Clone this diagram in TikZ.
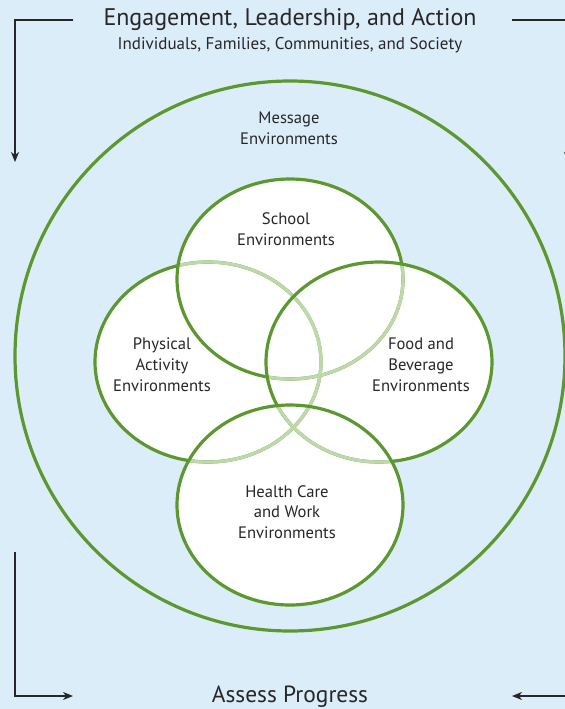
\documentclass[tikz,border=0pt]{standalone}
\usepackage{fontspec}
\setmainfont{PT Sans}
\usepackage{tikz}
\usetikzlibrary{arrows.meta}

\definecolor{skyback}{RGB}{219,237,248}
\definecolor{leafgreen}{RGB}{92,151,47}
\definecolor{paleleaf}{RGB}{190,216,170}
\definecolor{inkgray}{RGB}{40,38,40}

\begin{document}
\begin{tikzpicture}[x=0.5pt, y=-0.5pt, >={Stealth[length=5pt, width=4pt, inset=1.5pt]},
    ring/.style = {leafgreen, line width=1.6pt},
    faint/.style = {paleleaf, line width=1.6pt},
    envlabel/.style = {align=center, text=inkgray, font=\fontsize{8.3}{10.4}\selectfont},
    loopline/.style = {inkgray, line width=0.65pt}]

    \useasboundingbox (0,0) rectangle (565,709);
    \fill [skyback] (0,0) rectangle (565,709);
    \clip (0,0) rectangle (565,709);

    % outer ring
    \draw [ring] (290,356) circle [radius=275];

    % the four environments
    \foreach \c in {(208,362), (290,279), (379,362), (290,505)}
        \fill [white] \c ellipse [x radius=113, y radius=100];

    \draw [ring] (208,362) ellipse [x radius=113, y radius=100];

    \begin{scope}
        \clip (290,279) ellipse [x radius=113, y radius=100];
        \draw [faint] (208,362) ellipse [x radius=113, y radius=100];
    \end{scope}
    \draw [ring] (290,279) ellipse [x radius=113, y radius=100];

    \begin{scope}
        \clip (379,362) ellipse [x radius=113, y radius=100];
        \draw [faint] (208,362) ellipse [x radius=113, y radius=100];
        \draw [faint] (290,279) ellipse [x radius=113, y radius=100];
    \end{scope}
    \draw [ring] (379,362) ellipse [x radius=113, y radius=100];

    \begin{scope}
        \clip (290,505) ellipse [x radius=113, y radius=100];
        \draw [faint] (208,362) ellipse [x radius=113, y radius=100];
        \draw [faint] (379,362) ellipse [x radius=113, y radius=100];
    \end{scope}
    \draw [ring] (290,505) ellipse [x radius=113, y radius=100];

    % texts
    \node [text=inkgray, font=\fontsize{12}{14}\selectfont] (title) at (290,20)
        {Engagement, Leadership, and Action};
    \node [text=inkgray, font=\fontsize{8.5}{10}\selectfont] (subtitle) at (290,45)
        {Individuals, Families, Communities, and Society};
    \node [text=inkgray, font=\fontsize{11.7}{13}\selectfont] (assess) at (290,697)
        {Assess Progress};

    \node [envlabel] (message) at (289,128) {Message\\Environments};
    \node [envlabel] (school) at (286,229) {School\\Environments};
    \node [envlabel] (activity) at (162,365) {Physical\\Activity\\Environments};
    \node [envlabel] (food) at (421,365) {Food and\\Beverage\\Environments};
    \node [envlabel] (health) at (287,512) {Health Care\\and Work\\Environments};

    % cycle arrows
    \coordinate (topleft) at (15,20);
    \coordinate (topright) at (568,20);
    \coordinate (botleft) at (15,696);
    \coordinate (botright) at (568,696);

    \draw [loopline, ->] (73,20) -- (topleft) -- (15,162);
    \draw [loopline, ->] (512,20) -- (topright) -- (568,162);
    \draw [loopline, ->] (15,552) -- (botleft) -- (73,696);
    \draw [loopline, ->] (botright) -- (512,696);
\end{tikzpicture}
\end{document}
